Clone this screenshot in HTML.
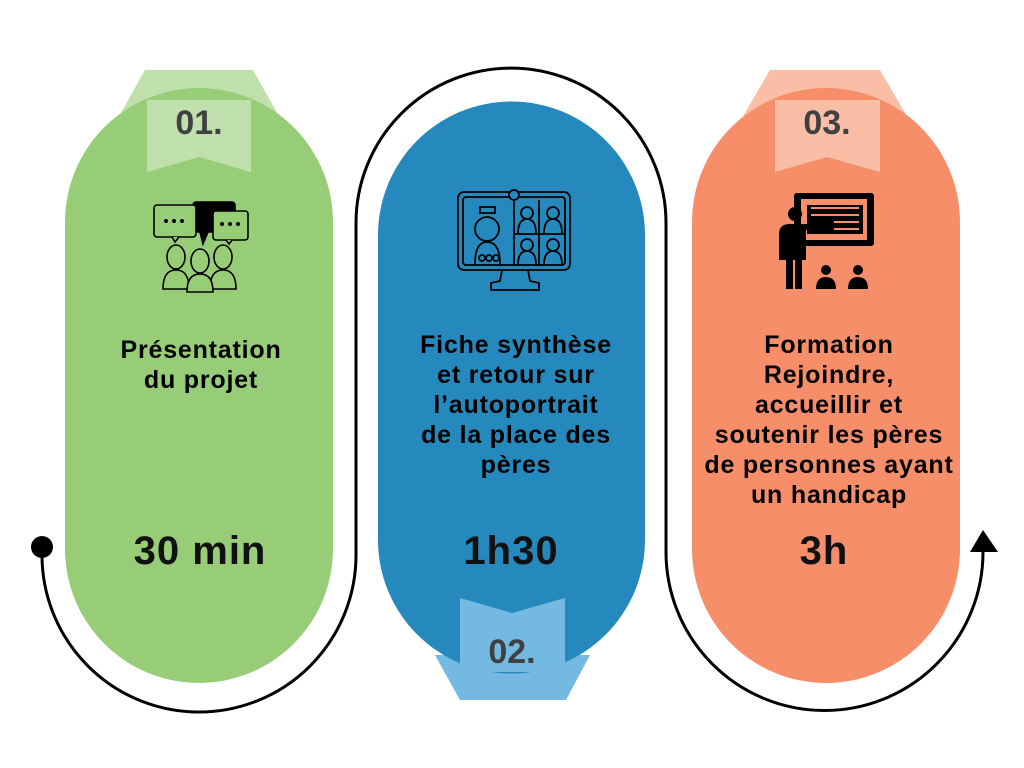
<!DOCTYPE html>
<html><head><meta charset="utf-8"><style>
body{margin:0;width:1024px;height:768px;background:#fff;overflow:hidden}
svg{display:block}
text{font-family:"Liberation Sans",sans-serif;font-weight:bold;text-anchor:middle}
</style></head><body>
<svg width="1024" height="768" viewBox="0 0 1024 768">
<path d="M42,547 L42,555 A157,157 0 0 0 356,555 L356,223 A155,155 0 0 1 666,223 L666,552 A158.5,158.5 0 0 0 983,552 L983,548" fill="none" stroke="#000" stroke-width="3"/>
<circle cx="42" cy="547" r="11" fill="#000"/>
<polygon points="983,530 970,552 998,552" fill="#000"/>

<polygon points="145,70 253,70 280,118 118,118" fill="#bfe0ad"/>
<path d="M65,222 A134,134 0 0 1 333,222 L333,549 A134,134 0 0 1 65,549 Z" fill="#97cd77"/>
<polygon points="147,100 251,100 251,172 199,157 147,172" fill="#bfe0ad"/>
<text x="199" y="134" font-size="34" fill="#404040">01.</text>

<polygon points="435,655 590,655 566,700 460,700" fill="#73b9e1"/>
<path d="M378,235 A133.5,133.5 0 0 1 645,235 L645,540 A133.5,133.5 0 0 1 378,540 Z" fill="#2689bd"/>
<polygon points="460,598 512,613 565,598 565,672 460,672" fill="#73b9e1"/>
<text x="512" y="663" font-size="34" fill="#404040">02.</text>

<polygon points="770,70 880,70 908,118 742,118" fill="#f9bea5"/>
<path d="M692,222 A134,134 0 0 1 960,222 L960,549 A134,134 0 0 1 692,549 Z" fill="#f78e6a"/>
<polygon points="775,100 880,100 880,172 827,157 775,172" fill="#f9bea5"/>
<text x="827" y="134" font-size="34" fill="#404040">03.</text>

<g font-size="25" fill="#000" letter-spacing="0.8">
<text x="201" y="358">Présentation</text>
<text x="201" y="388">du projet</text>
<text x="516" y="353">Fiche synthèse</text>
<text x="516" y="383">et retour sur</text>
<text x="516" y="413">l’autoportrait</text>
<text x="516" y="443">de la place des</text>
<text x="516" y="473">pères</text>
<text x="829" y="353">Formation</text>
<text x="829" y="383">Rejoindre,</text>
<text x="829" y="413">accueillir et</text>
<text x="829" y="443">soutenir les pères</text>
<text x="829" y="473">de personnes ayant</text>
<text x="829" y="503">un handicap</text>
</g>
<g font-size="40" fill="#111" letter-spacing="1">
<text x="200" y="564">30 min</text>
<text x="511" y="564">1h30</text>
<text x="824" y="564">3h</text>
</g>

<g stroke="#000" stroke-width="1.6" fill="none">
<rect x="193" y="202" width="42" height="30" rx="3" fill="#000"/>
<path d="M200,232 L203,244 L208,232" fill="#000"/>
<rect x="154" y="205" width="42" height="32" rx="3" fill="#97cd77"/>
<path d="M172,237 L175,242 L179,237" fill="#97cd77"/>
<rect x="213" y="211" width="35" height="29" rx="3" fill="#97cd77"/>
<path d="M226,240 L229,244 L232,240" fill="#97cd77"/>
<ellipse cx="176" cy="257" rx="9" ry="12" fill="#97cd77"/>
<path d="M163,289 Q163,270 176,270 Q189,270 189,289 Z" fill="#97cd77"/>
<ellipse cx="223" cy="257" rx="9" ry="12" fill="#97cd77"/>
<path d="M210,289 Q210,270 223,270 Q236,270 236,289 Z" fill="#97cd77"/>
<ellipse cx="200" cy="261" rx="9" ry="12" fill="#97cd77"/>
<path d="M187,292 Q187,274 200,274 Q213,274 213,292 Z" fill="#97cd77"/>
</g>
<g fill="#000"><circle cx="166" cy="221" r="2"/><circle cx="174" cy="221" r="2"/><circle cx="182" cy="221" r="2"/>
<circle cx="222" cy="224" r="2"/><circle cx="230" cy="224" r="2"/><circle cx="238" cy="224" r="2"/></g>

<g stroke="#000" stroke-width="1.8" fill="none">
<rect x="458" y="192" width="112" height="78" rx="6"/>
<rect x="463" y="197" width="102" height="68" rx="3"/>
<circle cx="514" cy="195" r="5" fill="#2689bd"/>
<line x1="514" y1="200" x2="514" y2="265"/><line x1="539" y1="200" x2="539" y2="265"/>
<line x1="514" y1="234" x2="565" y2="234"/>
<rect x="480" y="207" width="15" height="6"/>
<circle cx="487" cy="229" r="12"/>
<path d="M475,264 Q475,242 487,242 Q500,242 500,264"/>
<circle cx="482" cy="258" r="3"/><circle cx="489" cy="258" r="3"/><circle cx="496" cy="258" r="3"/>
<circle cx="527" cy="213" r="6"/><path d="M518,234 Q518,219 527,219 Q536,219 536,234"/>
<circle cx="553" cy="213" r="6"/><path d="M544,234 Q544,219 553,219 Q562,219 562,234"/>
<circle cx="527" cy="245" r="6"/><path d="M518,265 Q518,251 527,251 Q536,251 536,265"/>
<circle cx="553" cy="245" r="6"/><path d="M544,265 Q544,251 553,251 Q562,251 562,265"/>
<path d="M502,270 L500,281 L491,283 L491,290 L539,290 L539,283 L530,281 L528,270"/>
</g>

<g fill="#000">
<rect x="794" y="193" width="80" height="53" rx="3"/>
<rect x="801" y="199" width="66" height="41" fill="#f78e6a"/>
<rect x="807" y="205" width="56" height="29" fill="#000"/>
<rect x="811" y="207" width="48" height="2" fill="#f78e6a"/>
<rect x="811" y="214" width="48" height="2" fill="#f78e6a"/>
<rect x="834" y="221" width="25" height="2" fill="#f78e6a"/>
<rect x="834" y="228" width="25" height="2" fill="#f78e6a"/>
<circle cx="795" cy="214" r="7"/>
<path d="M779,234 Q779,224 790,224 L825,224 Q831,226 825,230 L806,230 L806,260 L779,260 Z"/>
<rect x="786" y="259" width="7" height="30"/><rect x="795" y="259" width="7" height="30"/>
<circle cx="826" cy="270" r="5"/><path d="M816,289 Q816,277 826,277 Q836,277 836,289 Z"/>
<circle cx="858" cy="270" r="5"/><path d="M848,289 Q848,277 858,277 Q868,277 868,289 Z"/>
</g>
</svg>
</body></html>
